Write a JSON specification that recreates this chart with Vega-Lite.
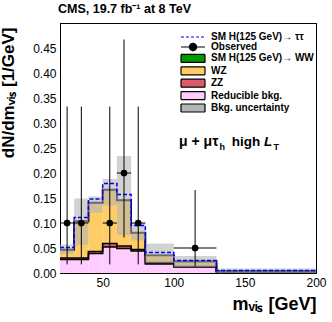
{
  "$schema": "https://vega.github.io/schema/vega-lite/v6.json",
  "width": 256,
  "height": 250,
  "autosize": {"type": "none"},
  "padding": {"left": 60, "top": 23, "right": 16, "bottom": 49},
  "background": "white",
  "title": {"text": "CMS, 19.7 fb⁻¹ at 8 TeV", "anchor": "start", "frame": "group", "font": "Liberation Sans", "fontSize": 12.5, "fontWeight": "bold", "offset": 2, "dx": -2, "color": "black"},
  "datasets": {
    "hist": [
      {"lo": 20, "hi": 30, "comp": "Reducible bkg.", "k": 1, "v": 0.027},
      {"lo": 30, "hi": 40, "comp": "Reducible bkg.", "k": 1, "v": 0.027},
      {"lo": 40, "hi": 50, "comp": "Reducible bkg.", "k": 1, "v": 0.039},
      {"lo": 50, "hi": 60, "comp": "Reducible bkg.", "k": 1, "v": 0.052},
      {"lo": 60, "hi": 70, "comp": "Reducible bkg.", "k": 1, "v": 0.049},
      {"lo": 70, "hi": 80, "comp": "Reducible bkg.", "k": 1, "v": 0.044},
      {"lo": 80, "hi": 100, "comp": "Reducible bkg.", "k": 1, "v": 0.018},
      {"lo": 100, "hi": 130, "comp": "Reducible bkg.", "k": 1, "v": 0.012},
      {"lo": 130, "hi": 200, "comp": "Reducible bkg.", "k": 1, "v": 0.002},
      {"lo": 20, "hi": 30, "comp": "ZZ", "k": 2, "v": 0.003},
      {"lo": 30, "hi": 40, "comp": "ZZ", "k": 2, "v": 0.003},
      {"lo": 40, "hi": 50, "comp": "ZZ", "k": 2, "v": 0.004},
      {"lo": 50, "hi": 60, "comp": "ZZ", "k": 2, "v": 0.007},
      {"lo": 60, "hi": 70, "comp": "ZZ", "k": 2, "v": 0.005},
      {"lo": 70, "hi": 80, "comp": "ZZ", "k": 2, "v": 0.003},
      {"lo": 80, "hi": 100, "comp": "ZZ", "k": 2, "v": 0.003},
      {"lo": 100, "hi": 130, "comp": "ZZ", "k": 2, "v": 0.001},
      {"lo": 130, "hi": 200, "comp": "ZZ", "k": 2, "v": 0.0005},
      {"lo": 20, "hi": 30, "comp": "WZ", "k": 3, "v": 0.016},
      {"lo": 30, "hi": 40, "comp": "WZ", "k": 3, "v": 0.073},
      {"lo": 40, "hi": 50, "comp": "WZ", "k": 3, "v": 0.097},
      {"lo": 50, "hi": 60, "comp": "WZ", "k": 3, "v": 0.107},
      {"lo": 60, "hi": 70, "comp": "WZ", "k": 3, "v": 0.091},
      {"lo": 70, "hi": 80, "comp": "WZ", "k": 3, "v": 0.033},
      {"lo": 80, "hi": 100, "comp": "WZ", "k": 3, "v": 0.014},
      {"lo": 100, "hi": 130, "comp": "WZ", "k": 3, "v": 0.010},
      {"lo": 130, "hi": 200, "comp": "WZ", "k": 3, "v": 0.0015},
      {"lo": 20, "hi": 30, "comp": "SM H(125 GeV)→ WW", "k": 4, "v": 0.001},
      {"lo": 30, "hi": 40, "comp": "SM H(125 GeV)→ WW", "k": 4, "v": 0.001},
      {"lo": 40, "hi": 50, "comp": "SM H(125 GeV)→ WW", "k": 4, "v": 0.001},
      {"lo": 50, "hi": 60, "comp": "SM H(125 GeV)→ WW", "k": 4, "v": 0.001},
      {"lo": 60, "hi": 70, "comp": "SM H(125 GeV)→ WW", "k": 4, "v": 0.001},
      {"lo": 70, "hi": 80, "comp": "SM H(125 GeV)→ WW", "k": 4, "v": 0.001},
      {"lo": 80, "hi": 100, "comp": "SM H(125 GeV)→ WW", "k": 4, "v": 0.0005},
      {"lo": 100, "hi": 130, "comp": "SM H(125 GeV)→ WW", "k": 4, "v": 0.0003},
      {"lo": 130, "hi": 200, "comp": "SM H(125 GeV)→ WW", "k": 4, "v": 0.0002},
      {"lo": 20, "hi": 30, "comp": "SM H(125 GeV)→ ττ", "k": 5, "v": 0.004},
      {"lo": 30, "hi": 40, "comp": "SM H(125 GeV)→ ττ", "k": 5, "v": 0.007},
      {"lo": 40, "hi": 50, "comp": "SM H(125 GeV)→ ττ", "k": 5, "v": 0.007},
      {"lo": 50, "hi": 60, "comp": "SM H(125 GeV)→ ττ", "k": 5, "v": 0.012},
      {"lo": 60, "hi": 70, "comp": "SM H(125 GeV)→ ττ", "k": 5, "v": 0.011},
      {"lo": 70, "hi": 80, "comp": "SM H(125 GeV)→ ττ", "k": 5, "v": 0.014},
      {"lo": 80, "hi": 100, "comp": "SM H(125 GeV)→ ττ", "k": 5, "v": 0.0055},
      {"lo": 100, "hi": 130, "comp": "SM H(125 GeV)→ ττ", "k": 5, "v": 0.0017},
      {"lo": 130, "hi": 200, "comp": "SM H(125 GeV)→ ττ", "k": 5, "v": 0.0008}
    ],
    "unc": [
      {"lo": 20, "hi": 30, "comp": "Bkg. uncertainty", "ulo": 0.038, "uhi": 0.057},
      {"lo": 30, "hi": 40, "comp": "Bkg. uncertainty", "ulo": 0.056, "uhi": 0.149},
      {"lo": 40, "hi": 50, "comp": "Bkg. uncertainty", "ulo": 0.12, "uhi": 0.153},
      {"lo": 50, "hi": 60, "comp": "Bkg. uncertainty", "ulo": 0.135, "uhi": 0.188},
      {"lo": 60, "hi": 70, "comp": "Bkg. uncertainty", "ulo": 0.076, "uhi": 0.234},
      {"lo": 70, "hi": 80, "comp": "Bkg. uncertainty", "ulo": 0.065, "uhi": 0.1},
      {"lo": 80, "hi": 100, "comp": "Bkg. uncertainty", "ulo": 0.02, "uhi": 0.059},
      {"lo": 100, "hi": 130, "comp": "Bkg. uncertainty", "ulo": 0.012, "uhi": 0.034},
      {"lo": 130, "hi": 200, "comp": "Bkg. uncertainty", "ulo": 0.0, "uhi": 0.009}
    ],
    "obs": [
      {"x": 25, "xlo": 20, "xhi": 30, "y": 0.1, "ylo": 0.0173, "yhi": 0.333},
      {"x": 35, "xlo": 30, "xhi": 40, "y": 0.1, "ylo": 0.0173, "yhi": 0.333},
      {"x": 55, "xlo": 50, "xhi": 60, "y": 0.1, "ylo": 0.0173, "yhi": 0.333},
      {"x": 65, "xlo": 60, "xhi": 70, "y": 0.2, "ylo": 0.071, "yhi": 0.467},
      {"x": 75, "xlo": 70, "xhi": 80, "y": 0.1, "ylo": 0.0173, "yhi": 0.333},
      {"x": 115, "xlo": 100, "xhi": 130, "y": 0.05, "ylo": 0.013, "yhi": 0.166}
    ]
  },
  "layer": [
    {
      "data": {"name": "hist"},
      "transform": [
        {"stack": "v", "groupby": ["lo"], "sort": [{"field": "k"}], "as": ["v0", "v1"]},
        {"filter": "datum.k <= 4"}
      ],
      "mark": {"type": "bar", "strokeWidth": 0},
      "encoding": {
        "x": {"field": "lo", "type": "quantitative", "scale": {"domain": [20, 200], "nice": false, "zero": false},
          "axis": {"orient": "bottom", "title": "mᵥᵢₛ [GeV]", "values": [20, 30, 40, 50, 60, 70, 80, 90, 100, 110, 120, 130, 140, 150, 160, 170, 180, 190, 200],
            "labelExpr": "datum.value % 50 === 0 ? datum.label : ''", "labelFlush": false, "labelOverlap": false, "labelPadding": 4,
            "titleFontSize": 18, "titleX": 256, "titleY": 36, "titleAlign": "right", "titleBaseline": "alphabetic",
            "encode": {"ticks": {"update": {"y2": {"signal": "datum.value % 50 === 0 ? -8 : -4"}}}}}},
        "x2": {"field": "hi"},
        "y": {"field": "v0", "type": "quantitative", "scale": {"domain": [0, 0.5], "nice": false, "zero": false},
          "axis": {"orient": "left", "title": "dN/dmᵥᵢₛ [1/GeV]", "values": [0, 0.01, 0.02, 0.03, 0.04, 0.05, 0.06, 0.07, 0.08, 0.09, 0.1, 0.11, 0.12, 0.13, 0.14, 0.15, 0.16, 0.17, 0.18, 0.19, 0.2, 0.21, 0.22, 0.23, 0.24, 0.25, 0.26, 0.27, 0.28, 0.29, 0.3, 0.31, 0.32, 0.33, 0.34, 0.35, 0.36, 0.37, 0.38, 0.39, 0.4, 0.41, 0.42, 0.43, 0.44, 0.45, 0.46, 0.47, 0.48, 0.49, 0.5],
            "labelExpr": "(round(datum.value*100) % 5 === 0 && datum.value < 0.49) ? format(datum.value, '.2f') : ''", "labelOverlap": false, "labelPadding": 4, "labelFlush": false,
            "titleFontSize": 17, "titleX": -52, "titleY": 4, "titleAlign": "right", "titleAngle": -90, "titleBaseline": "middle",
            "encode": {"ticks": {"update": {"x2": {"signal": "round(datum.value*100) % 5 === 0 ? 8 : 4"}}}}}},
        "y2": {"field": "v1"},
        "color": {"field": "comp", "type": "nominal",
          "scale": {"domain": ["SM H(125 GeV)→ ττ", "Observed", "SM H(125 GeV)→ WW", "WZ", "ZZ", "Reducible bkg.", "Bkg. uncertainty"],
                    "range": ["#0000ff", "#000000", "#009900", "#ffcc66", "#de5a6a", "#ffccff", "#b4b4b4"]},
          "legend": {"orient": "none", "legendX": 128, "legendY": 9, "title": null, "labelFont": "Liberation Sans", "labelFontSize": 10, "labelFontWeight": "bold", "labelColor": "black",
            "symbolSize": 64, "labelOffset": 13, "rowPadding": -1.6, "padding": 0,
            "encode": {"symbols": {"update": {
              "shape": {"signal": "datum.value === 'SM H(125 GeV)→ ττ' ? 'M-3,0H3' : datum.value === 'Observed' ? 'M-3,0H3M-0.9,0A0.9,0.9 0 1 1 0.9,0A0.9,0.9 0 1 1 -0.9,0Z' : 'M-3,-1H3V1H-3Z'"},
              "stroke": {"signal": "datum.value === 'SM H(125 GeV)→ ττ' ? '#0000ff' : 'black'"},
              "strokeDash": {"signal": "datum.value === 'SM H(125 GeV)→ ττ' ? [3, 2] : [1, 0]"},
              "strokeWidth": {"value": 1.2},
              "opacity": {"value": 1},
              "fillOpacity": {"value": 1}
            }}}}}
      }
    },
    {
      "data": {"name": "hist"},
      "transform": [
        {"stack": "v", "groupby": ["lo"], "sort": [{"field": "k"}], "as": ["v0", "v1"]},
        {"filter": "datum.k <= 4"},
        {"fold": ["lo", "hi"], "as": ["edge", "xv"]}
      ],
      "mark": {"type": "line", "color": "black", "strokeWidth": 1.6},
      "encoding": {
        "x": {"field": "xv", "type": "quantitative", "scale": {"domain": [20, 200], "nice": false, "zero": false},
          "axis": {"orient": "top", "labels": false, "title": null, "values": [20, 30, 40, 50, 60, 70, 80, 90, 100, 110, 120, 130, 140, 150, 160, 170, 180, 190, 200],
            "encode": {"ticks": {"update": {"y2": {"signal": "datum.value % 50 === 0 ? 8 : 4"}}}}}},
        "y": {"field": "v1", "type": "quantitative", "scale": {"domain": [0, 0.5], "nice": false, "zero": false},
          "axis": {"orient": "right", "labels": false, "title": null, "values": [0, 0.01, 0.02, 0.03, 0.04, 0.05, 0.06, 0.07, 0.08, 0.09, 0.1, 0.11, 0.12, 0.13, 0.14, 0.15, 0.16, 0.17, 0.18, 0.19, 0.2, 0.21, 0.22, 0.23, 0.24, 0.25, 0.26, 0.27, 0.28, 0.29, 0.3, 0.31, 0.32, 0.33, 0.34, 0.35, 0.36, 0.37, 0.38, 0.39, 0.4, 0.41, 0.42, 0.43, 0.44, 0.45, 0.46, 0.47, 0.48, 0.49, 0.5],
            "encode": {"ticks": {"update": {"x2": {"signal": "round(datum.value*100) % 5 === 0 ? -8 : -4"}}}}}},
        "detail": {"field": "comp"},
        "order": [{"field": "xv", "type": "quantitative"}, {"field": "edge", "type": "nominal"}]
      }
    },
    {
      "data": {"name": "unc"},
      "mark": {"type": "bar", "opacity": 0.6, "strokeWidth": 0},
      "encoding": {
        "x": {"field": "lo", "type": "quantitative", "scale": {"domain": [20, 200], "nice": false, "zero": false}, "axis": null},
        "x2": {"field": "hi"},
        "y": {"field": "ulo", "type": "quantitative", "scale": {"domain": [0, 0.5], "nice": false, "zero": false}, "axis": null},
        "y2": {"field": "uhi"},
        "color": {"field": "comp", "type": "nominal"}
      }
    },
    {
      "data": {"name": "hist"},
      "transform": [
        {"stack": "v", "groupby": ["lo"], "sort": [{"field": "k"}], "as": ["v0", "v1"]},
        {"filter": "datum.k === 5"},
        {"fold": ["lo", "hi"], "as": ["edge", "xv"]}
      ],
      "mark": {"type": "line", "color": "#0000ff", "strokeWidth": 1.5, "strokeDash": [4, 2]},
      "encoding": {
        "x": {"field": "xv", "type": "quantitative", "scale": {"domain": [20, 200], "nice": false, "zero": false}, "axis": null},
        "y": {"field": "v1", "type": "quantitative", "scale": {"domain": [0, 0.5], "nice": false, "zero": false}, "axis": null},
        "order": [{"field": "xv", "type": "quantitative"}, {"field": "edge", "type": "nominal"}]
      }
    },
    {
      "data": {"name": "obs"},
      "mark": {"type": "rule", "color": "black", "strokeWidth": 1},
      "encoding": {
        "x": {"field": "x", "type": "quantitative", "scale": {"domain": [20, 200], "nice": false, "zero": false}, "axis": null},
        "y": {"field": "ylo", "type": "quantitative", "scale": {"domain": [0, 0.5], "nice": false, "zero": false}, "axis": null},
        "y2": {"field": "yhi"}
      }
    },
    {
      "data": {"name": "obs"},
      "mark": {"type": "rule", "color": "black", "strokeWidth": 1},
      "encoding": {
        "x": {"field": "xlo", "type": "quantitative", "scale": {"domain": [20, 200], "nice": false, "zero": false}, "axis": null},
        "x2": {"field": "xhi"},
        "y": {"field": "y", "type": "quantitative", "scale": {"domain": [0, 0.5], "nice": false, "zero": false}, "axis": null}
      }
    },
    {
      "data": {"name": "obs"},
      "mark": {"type": "point", "filled": true, "color": "black", "size": 45, "opacity": 1},
      "encoding": {
        "x": {"field": "x", "type": "quantitative", "scale": {"domain": [20, 200], "nice": false, "zero": false}, "axis": null},
        "y": {"field": "y", "type": "quantitative", "scale": {"domain": [0, 0.5], "nice": false, "zero": false}, "axis": null}
      }
    },
    {
      "data": {"values": [{}]},
      "mark": {"type": "text", "text": "μ + μτ", "align": "left", "baseline": "alphabetic", "font": "Liberation Sans", "fontSize": 14, "fontWeight": "bold", "color": "black"},
      "encoding": {"x": {"datum": 103.7, "type": "quantitative", "axis": null}, "y": {"datum": 0.254, "type": "quantitative", "axis": null}}
    },
    {
      "data": {"values": [{}]},
      "mark": {"type": "text", "text": "h", "align": "left", "baseline": "alphabetic", "font": "Liberation Sans", "fontSize": 9, "fontWeight": "bold", "color": "black", "dx": 40.5, "dy": 4},
      "encoding": {"x": {"datum": 103.7, "type": "quantitative", "axis": null}, "y": {"datum": 0.254, "type": "quantitative", "axis": null}}
    },
    {
      "data": {"values": [{}]},
      "mark": {"type": "text", "text": "high", "align": "left", "baseline": "alphabetic", "font": "Liberation Sans", "fontSize": 13.5, "fontWeight": "bold", "color": "black", "dx": 52.7},
      "encoding": {"x": {"datum": 103.7, "type": "quantitative", "axis": null}, "y": {"datum": 0.254, "type": "quantitative", "axis": null}}
    },
    {
      "data": {"values": [{}]},
      "mark": {"type": "text", "text": "L", "align": "left", "baseline": "alphabetic", "font": "Liberation Sans", "fontSize": 13.5, "fontWeight": "bold", "fontStyle": "italic", "color": "black", "dx": 85},
      "encoding": {"x": {"datum": 103.7, "type": "quantitative", "axis": null}, "y": {"datum": 0.254, "type": "quantitative", "axis": null}}
    },
    {
      "data": {"values": [{}]},
      "mark": {"type": "text", "text": "T", "align": "left", "baseline": "alphabetic", "font": "Liberation Sans", "fontSize": 9, "fontWeight": "bold", "color": "black", "dx": 94.5, "dy": 4},
      "encoding": {"x": {"datum": 103.7, "type": "quantitative", "axis": null}, "y": {"datum": 0.254, "type": "quantitative", "axis": null}}
    }
  ],
  "resolve": {"axis": {"x": "independent", "y": "independent"}},
  "config": {
    "view": {"stroke": "black", "strokeWidth": 1},
    "axis": {"grid": false, "tickSize": 0, "tickColor": "black", "tickWidth": 1, "domainColor": "black", "domainWidth": 1,
      "labelFont": "Liberation Sans", "labelFontSize": 12, "labelColor": "black",
      "titleFont": "Liberation Sans", "titleFontWeight": "bold", "titleColor": "black"}
  }
}
